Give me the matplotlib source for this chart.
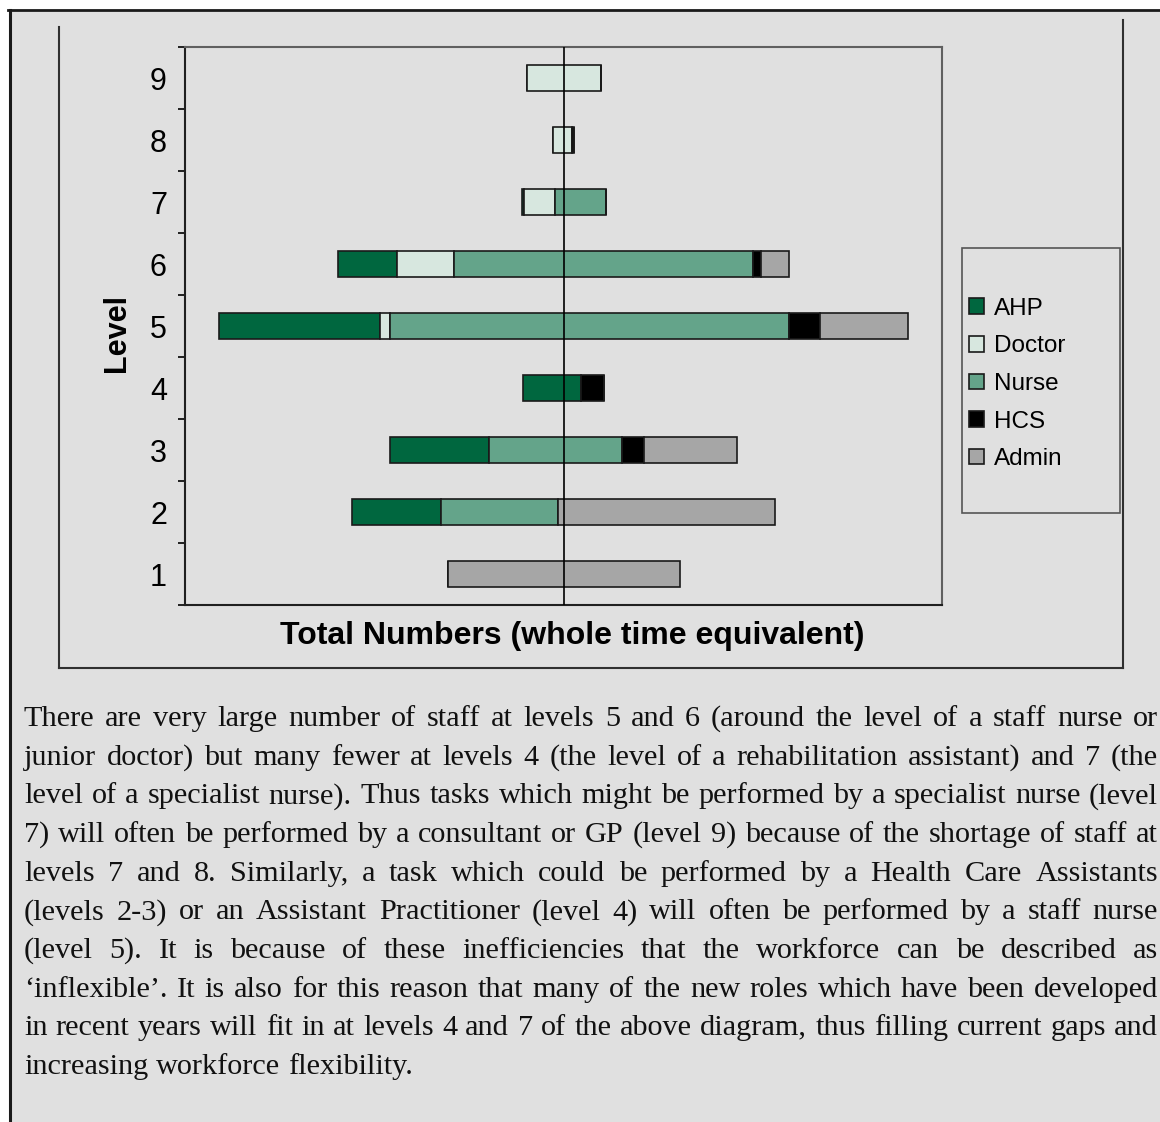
import matplotlib
matplotlib.use('Agg')
from matplotlib import pyplot as plt
from matplotlib.lines import Line2D
from matplotlib.patches import Rectangle
import numpy as np

### DATA (whole time equivalent)
levels = [1, 2, 3, 4, 5, 6, 7, 8, 9]
staff_groups = ['AHP', 'Doctor', 'Nurse', 'HCS', 'Admin']
ahp = [0, 89, 99, 58, 161, 59, 2, 0, 0]
doctor = [0, 0, 0, 0, 10, 57, 31, 19, 74]
nurse = [0, 117, 133, 0, 399, 299, 51, 0, 0]
hcs = [0, 0, 22, 23, 31, 8.5, 0, 2, 0]
admin = [232, 217, 93, 0, 88, 28, 0, 0, 0]
group_colors = ['#00673f', '#d7e7df', '#64a48a', '#000000', '#a6a6a6']

paragraph = [
    "There are very large number of staff at levels 5 and 6 (around the level of a staff nurse or",
    "junior doctor) but many fewer at levels 4 (the level of a rehabilitation assistant) and 7 (the",
    "level of a specialist nurse). Thus tasks which might be performed by a specialist nurse (level",
    "7) will often be performed by a consultant or GP (level 9) because of the shortage of staff at",
    "levels 7 and 8. Similarly, a task which could be performed by a Health Care Assistants",
    "(levels 2-3) or an Assistant Practitioner (level 4) will often be performed by a staff nurse",
    "(level 5). It is because of these inefficiencies that the workforce can be described as",
    "\u2018inflexible\u2019. It is also for this reason that many of the new roles which have been developed",
    "in recent years will fit in at levels 4 and 7 of the above diagram, thus filling current gaps and",
    "increasing workforce flexibility.",
]

### LAYOUT HELPERS (pixel coords measured from top-left)
W, H = 1160, 1122
bg = '#e0e0e0'
def fx(px):
    return px / W
def fy(py):
    return 1 - py / H

plt.rcParams['font.family'] = ['Liberation Sans', 'DejaVu Sans']

fig = plt.figure(figsize=(W / 100, H / 100), dpi=100, facecolor=bg)

# page margins / frame lines
fig.add_artist(Rectangle((0, 0), fx(9), 1, transform=fig.transFigure, color='white', zorder=0))
fig.add_artist(Rectangle((0, fy(10)), 1, 1 - fy(10), transform=fig.transFigure, color='white', zorder=0))
def fline(x0, y0, x1, y1, **kw):
    fig.add_artist(Line2D([fx(x0), fx(x1)], [fy(y0), fy(y1)], transform=fig.transFigure, **kw))
fline(8, 10, 1160, 10, color='#1a1a1a', lw=2)
fline(10, 10, 10, 1122, color='#1a1a1a', lw=2.2)
# chart box
fline(59, 27, 59, 668, color='#303030', lw=1.5)
fline(59, 668, 1123, 668, color='#303030', lw=1.5)
fline(1123, 20, 1123, 668, color='#303030', lw=1.5)

### CHART
ax = fig.add_axes([fx(185), fy(605), (942 - 185) / W, (605 - 47) / H])
ax.set_facecolor(bg)

series = [ahp, doctor, nurse, hcs, admin]
totals = np.sum(series, axis=0)
left = -totals / 2
for name, vals, col in zip(staff_groups, series, group_colors):
    ax.barh(levels, vals, left=left, height=0.42, color=col,
            edgecolor='#1a1a1a', linewidth=1.2, label=name, zorder=2)
    left = left + np.array(vals)
ax.axvline(0, color='black', lw=1.2, zorder=3)

ax.set_xlim(-378.5, 378.5)
ax.set_ylim(0.5, 9.5)
ax.set_xticks([])
ax.set_yticks(levels)
ax.set_yticklabels([str(l) for l in levels], fontsize=22)
ax.set_yticks(np.arange(0.5, 10, 1), minor=True)
ax.tick_params(axis='y', which='major', length=0, pad=13)
ax.tick_params(axis='y', which='minor', length=5, width=1.2, direction='out', color='black')
for side in ['top', 'right']:
    ax.spines[side].set_color('#606060')
    ax.spines[side].set_linewidth(1.5)
for side in ['left', 'bottom']:
    ax.spines[side].set_color('#202020')
    ax.spines[side].set_linewidth(1.5)

ax.set_ylabel('Level', fontsize=22, fontweight='bold')
ax.yaxis.label.set_verticalalignment('center')
ax.yaxis.set_label_coords((117 - 185) / 757, (605 - 333) / 558)
ax.set_xlabel('Total Numbers (whole time equivalent)', fontsize=23, fontweight='bold')
ax.xaxis.label.set_verticalalignment('center')
ax.xaxis.set_label_coords((572 - 185) / 757, (605 - 636) / 558)

# legend
fig.add_artist(Rectangle((fx(962), fy(513)), fx(1120) - fx(962), fy(248) - fy(513),
                         transform=fig.transFigure, fill=False, edgecolor='#555555', lw=1.2))
fig.legend(loc='center left', bbox_to_anchor=(fx(969), fy(384)), frameon=False,
           fontsize=17.5, handlelength=0.62, handleheight=0.62, handletextpad=0.4,
           labelspacing=0.64, borderpad=0, borderaxespad=0)

### PARAGRAPH (justified)
renderer = fig.canvas.get_renderer()
x0, x1 = 24, 1158
para_font = dict(fontsize=21.8, family=['Liberation Serif', 'DejaVu Serif'], va='baseline', color='#111111')
for i, line in enumerate(paragraph):
    yb = 726 + i * 38.67
    words = line.split()
    objs = [fig.text(0, fy(yb), w, **para_font) for w in words]
    widths = [o.get_window_extent(renderer).width for o in objs]
    if i == len(paragraph) - 1:
        gap = fig.text(0, 0, 'a a', **para_font).get_window_extent(renderer).width
        gap -= fig.text(0, 0, 'aa', **para_font).get_window_extent(renderer).width
        fig.texts = fig.texts[:-2]
    else:
        gap = (x1 - x0 - sum(widths)) / (len(words) - 1)
    x = x0
    for o, w in zip(objs, widths):
        o.set_x(fx(x))
        x += w + gap

fig.savefig('out.png', dpi=100, facecolor=bg)
